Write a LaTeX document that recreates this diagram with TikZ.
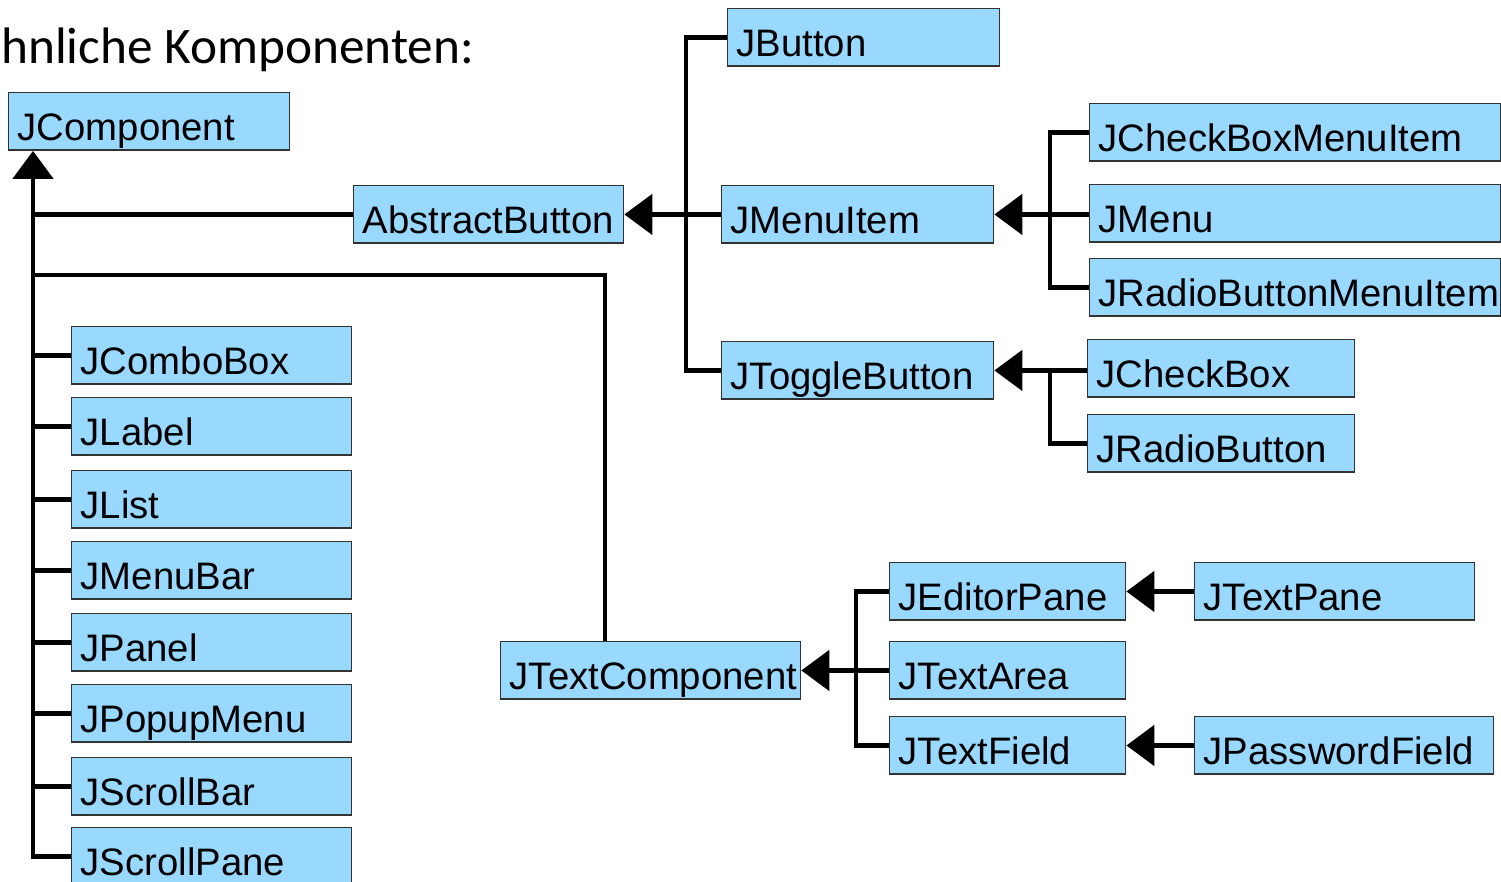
\documentclass[tikz,border=0pt]{standalone}
\usepackage{fontspec}
\setmainfont{Liberation Sans}
\newfontfamily\titlefont{Carlito}
\usetikzlibrary{arrows.meta}
\definecolor{boxblue}{RGB}{153,217,255}

\begin{document}
\begin{tikzpicture}[x=0.02cm, y=-0.02cm,
  cls/.style={draw=black!80, line width=0.8pt, fill=boxblue, anchor=north west,
    inner xsep=0.18cm, inner ysep=0pt, text width=#1, align=left,
    text height=0.95cm, text depth=0.2cm, font=\fontsize{21.8}{26}\selectfont},
  line/.style={line width=2.8pt},
  inh/.style={line width=2.8pt, -{Triangle[length=0.56cm, width=0.8cm]}}]
  \clip (0,0) rectangle (1501,882);

  \node[anchor=base west, inner sep=0pt, font=\titlefont\fontsize{29.2}{33}\selectfont] (title) at (1,64) {hnliche Komponenten:};

  \node[cls=5.26cm] (jcomp) at (8,92) {JComponent};
  \node[cls=5.04cm] (abutton) at (353,185) {AbstractButton};

  \node[cls=5.08cm] (jbutton) at (727,8) {JButton};
  \node[cls=5.08cm] (jmenuitem) at (721,185) {JMenuItem};
  \node[cls=5.08cm] (jtoggle) at (721,341) {JToggleButton};

  \node[cls=7.86cm] (jcbmi) at (1089,103) {JCheckBoxMenuItem};
  \node[cls=7.86cm] (jmenu) at (1089,184) {JMenu};
  \node[cls=7.86cm] (jrbmi) at (1089,258) {JRadioButtonMenuItem};

  \node[cls=4.98cm] (jcheckbox) at (1087,339) {JCheckBox};
  \node[cls=4.98cm] (jradio) at (1087,414) {JRadioButton};

  \node[cls=5.24cm] (jcombo) at (71,326) {JComboBox};
  \node[cls=5.24cm] (jlabel) at (71,397) {JLabel};
  \node[cls=5.24cm] (jlist) at (71,470) {JList};
  \node[cls=5.24cm] (jmenubar) at (71,541) {JMenuBar};
  \node[cls=5.24cm] (jpanel) at (71,613) {JPanel};
  \node[cls=5.24cm] (jpopup) at (71,684) {JPopupMenu};
  \node[cls=5.24cm] (jsbar) at (71,757) {JScrollBar};
  \node[cls=5.24cm] (jspane) at (71,827) {JScrollPane};

  \node[cls=5.64cm] (jtextcomp) at (500,641) {JTextComponent};
  \node[cls=4.36cm] (jeditor) at (889,562) {JEditorPane};
  \node[cls=4.36cm] (jtextarea) at (889,641) {JTextArea};
  \node[cls=4.36cm] (jtextfield) at (889,716) {JTextField};
  \node[cls=5.24cm] (jtextpane) at (1194,562) {JTextPane};
  \node[cls=5.62cm] (jpassword) at (1194,716) {JPasswordField};

  \coordinate (trunk) at (33,0);
  \coordinate (tc) at (605,275);
  \coordinate (ab) at (686,0);
  \coordinate (mi) at (1050,0);
  \coordinate (tb) at (1050,0);
  \coordinate (tx) at (856,0);

  \draw[inh] (jspane.west) -| (trunk |- jcomp.south);
  \draw[line] (jcombo.west) -- (trunk |- jcombo.west);
  \draw[line] (jlabel.west) -- (trunk |- jlabel.west);
  \draw[line] (jlist.west) -- (trunk |- jlist.west);
  \draw[line] (jmenubar.west) -- (trunk |- jmenubar.west);
  \draw[line] (jpanel.west) -- (trunk |- jpanel.west);
  \draw[line] (jpopup.west) -- (trunk |- jpopup.west);
  \draw[line] (jsbar.west) -- (trunk |- jsbar.west);
  \draw[line] (abutton.west) -- (trunk |- abutton.west);
  \draw[line] (jtextcomp.north -| tc) -- (tc) -- (trunk |- tc);

  \draw[inh] (jmenuitem.west) -- (abutton.east);
  \draw[line] (jbutton.west) -| (ab |- jtoggle.west) -- (jtoggle.west);

  \draw[inh] (jmenuitem.east -| jmenu.west) -- (jmenuitem.east);
  \draw[line] (jcbmi.west) -| (mi |- jrbmi.west) -- (jrbmi.west);

  \draw[inh] (jtoggle.east -| jcheckbox.west) -- (jtoggle.east);
  \draw[line] (tb |- jtoggle.east) |- (jradio.west);

  \draw[inh] (jtextarea.west) -- (jtextcomp.east);
  \draw[line] (jeditor.west) -| (tx |- jtextfield.west) -- (jtextfield.west);
  \draw[inh] (jtextpane.west) -- (jeditor.east);
  \draw[inh] (jpassword.west) -- (jtextfield.east);
\end{tikzpicture}
\end{document}
